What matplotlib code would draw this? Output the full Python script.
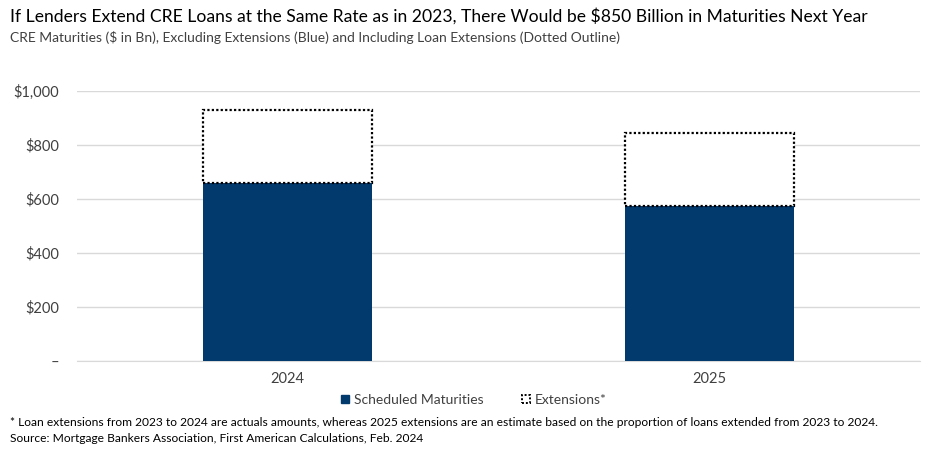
import matplotlib
matplotlib.use("Agg")
import matplotlib.pyplot as plt
from matplotlib.patches import Patch
from matplotlib import font_manager

years = ["2024", "2025"]
scheduled = [659, 575]
total_with_ext = [928, 845]
extensions = [t - s for t, s in zip(total_with_ext, scheduled)]
yticks = [0, 200, 400, 600, 800, 1000]
yticklabels = ["–", "$200", "$400", "$600", "$800", "$1,000"]

title = "If Lenders Extend CRE Loans at the Same Rate as in 2023, There Would be $850 Billion in Maturities Next Year"
subtitle = "CRE Maturities ($ in Bn), Excluding Extensions (Blue) and Including Loan Extensions (Dotted Outline)"
footnote = "* Loan extensions from 2023 to 2024 are actuals amounts, whereas 2025 extensions are an estimate based on the proportion of loans extended from 2023 to 2024."
source = "Source: Mortgage Bankers Association, First American Calculations, Feb. 2024"

plt.rcParams['font.family'] = ['Lato', 'DejaVu Sans']
BLUE = "#023A6E"
TXT = "#404040"

names = {f.name for f in font_manager.fontManager.ttflist}
title_family = ['Liberation Sans Narrow', 'Lato'] if 'Liberation Sans Narrow' in names else ['Lato']
title_size = 15 if 'Liberation Sans Narrow' in names else 12.6

fig = plt.figure(figsize=(9.34, 4.54), dpi=100)
ax = fig.add_axes([77/934, 93/454, (920-77)/934, 270/454])

x = list(range(len(years)))
ax.bar(x, scheduled, width=0.4, color=BLUE, zorder=3)
ax.bar(x, extensions, bottom=scheduled, width=0.4, facecolor="white",
       edgecolor="black", linestyle=(0, (1, 1)), linewidth=1.6, zorder=4)

ax.set_xlim(-0.5, 1.5)
ax.set_ylim(0, 1000)
ax.set_yticks(yticks)
ax.set_yticklabels(yticklabels)
ax.set_xticks(x)
ax.set_xticklabels(years)
ax.yaxis.grid(True, color="#D9D9D9", linewidth=1.0, zorder=0)
ax.set_axisbelow(True)
for s in ax.spines.values():
    s.set_visible(False)
ax.spines['bottom'].set_visible(True)
ax.spines['bottom'].set_color("#D9D9D9")
ax.tick_params(axis='both', length=0, labelsize=10.5, colors=TXT)
ax.tick_params(axis='y', pad=22 - 9)
ax.tick_params(axis='x', pad=8)

fig.text(10/934, 1 - 16/454, title, fontsize=title_size, family=title_family, color="black", va="center", ha="left")
fig.text(10/934, 1 - 37/454, subtitle, fontsize=10, color=TXT, va="center", ha="left")
fig.text(10/934, 1 - 423/454, footnote, fontsize=8.65, color="black", va="center", ha="left")
fig.text(10/934, 1 - 439/454, source, fontsize=8.65, color="black", va="center", ha="left")

handles = [Patch(facecolor=BLUE, edgecolor=BLUE, label="Scheduled Maturities"),
           Patch(facecolor="white", edgecolor="black", linestyle=(0, (1, 1)), linewidth=1.4, label="Extensions*")]
fig.legend(handles=handles, loc="center", bbox_to_anchor=(474/934, 1 - 400/454), ncol=2,
           frameon=False, fontsize=10, handlelength=0.55, handleheight=0.55, handletextpad=0.35,
           columnspacing=2.8, labelcolor=TXT)

fig.savefig("out.png", dpi=100)
